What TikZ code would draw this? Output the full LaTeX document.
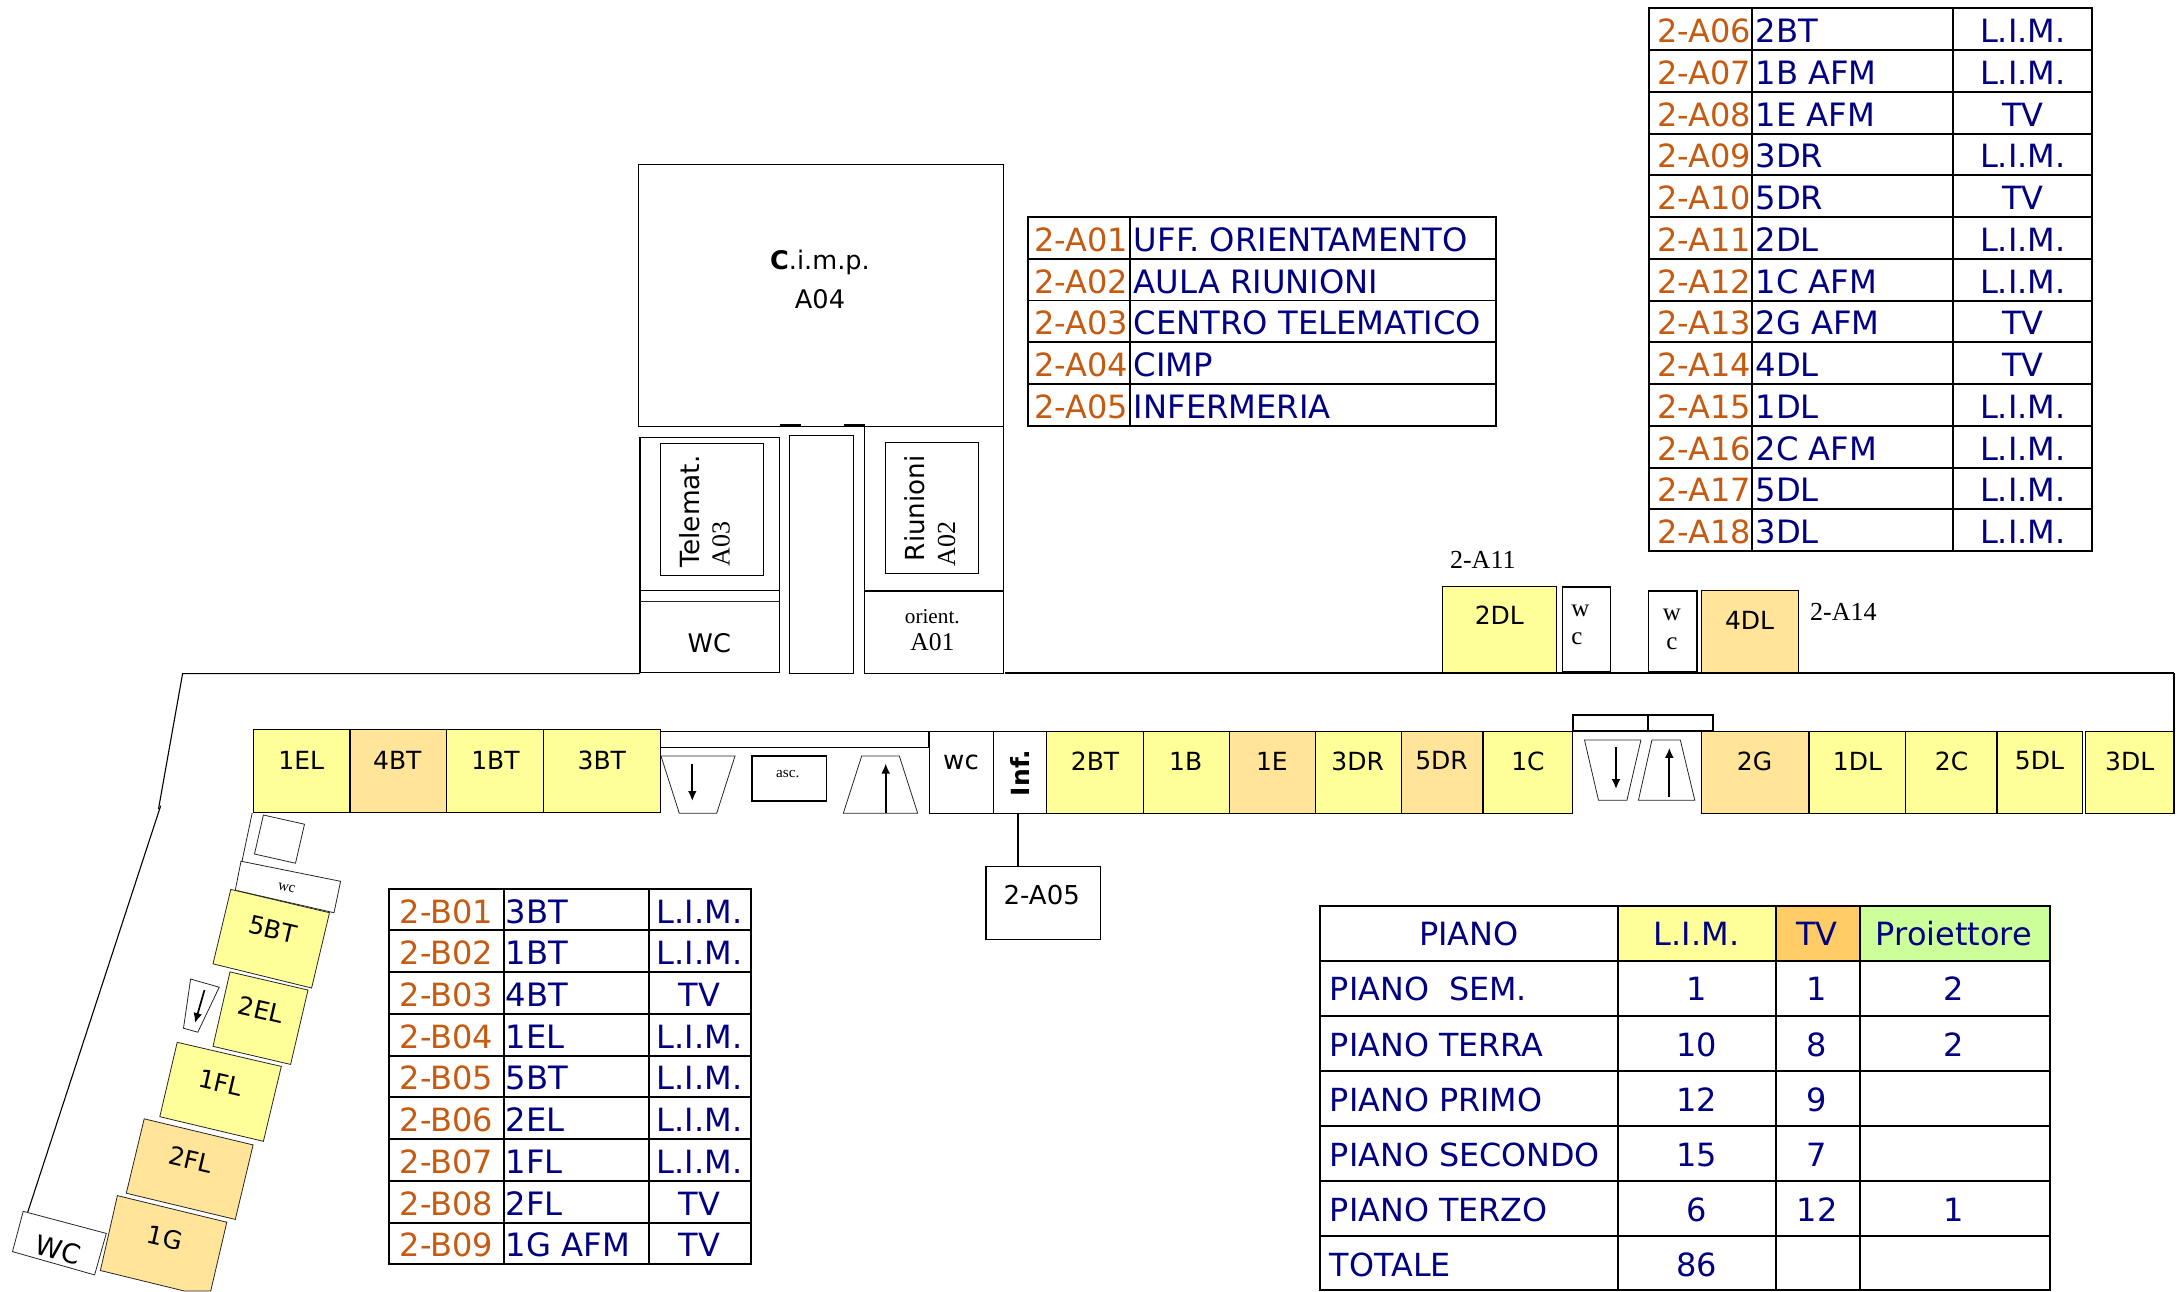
\documentclass[tikz,border=0pt]{standalone}
\usepackage{fontspec}
\setmainfont{DejaVu Sans}
\newfontfamily\serifface{Liberation Serif}
\usetikzlibrary{arrows.meta,calc}
\definecolor{roomY}{HTML}{FFFF99}
\definecolor{roomO}{HTML}{FFE499}
\definecolor{headO}{HTML}{FFCC66}
\definecolor{headG}{HTML}{CCFF99}
\definecolor{codeC}{HTML}{C55A11}
\definecolor{textN}{HTML}{000080}
\newcommand\fs[1]{\fontsize{#1}{#1}\selectfont}
\tikzset{
  wall/.style={draw=black,line width=.55pt},
  thinwall/.style={draw=black!85,line width=.4pt},
  boldwall/.style={draw=black,line width=1pt},
  yroom/.style={wall,fill=roomY},
  oroom/.style={wall,fill=roomO},
  rule/.style={draw=black,line width=.95pt},
  lbl/.style={inner sep=0pt,font=\fs{12.5}},
  slbl/.style={inner sep=0pt,font=\serifface\fs{12.5}},
  tcode/.style={inner sep=0pt,anchor=base west,text=codeC,font=\fs{16}},
  ttext/.style={inner sep=0pt,anchor=base west,text=textN,font=\fs{16.1}},
  tmid/.style={inner sep=0pt,anchor=base,text=textN,font=\fs{16}},
  ptext/.style={inner sep=0pt,anchor=base west,text=textN,font=\fs{15.9}},
  flow/.style={draw=black,line width=.85pt,-{Latex[length=5pt,width=4.4pt]}},
}
\begin{document}
\begin{tikzpicture}[x=.5pt,y=-.5pt]
\useasboundingbox (0,0) rectangle (2182,1291);
% corridor
\draw[wall] (26.8,1215) -- (160.7,805.7);
\draw[wall] (158.5,809) -- (182.6,673.6) -- (640,673.6);
\draw[wall] (1005,673) -- (2174,673);
\draw[boldwall] (2174,673) -- (2174,732);
% top block
\draw[wall,line width=.7pt] (638.7,164.5) rectangle (1003.3,426.5);
\node[lbl,font=\fs{12.8}] (cimp) at (820,262.5) {\textbf{C}.i.m.p.};
\node[lbl,font=\fs{12.8}] (a04) at (820,299.5) {A04};
\draw[line width=1.5pt] (780,425.5) -- (801,425.5) (844,425.5) -- (865,425.5);
\draw[wall] (640,437.5) rectangle (779.3,672.5);
\draw[wall] (640,590.4) -- (779.3,590.4);
\draw[thinwall] (640,601) -- (779.3,601);
\draw[wall] (660.7,443.7) rectangle (763.3,575.3);
\node[lbl,font=\fs{13.2},rotate=90,anchor=west] (telemat) at (689.3,567.8) {Telemat.};
\node[slbl,font=\serifface\fs{13},rotate=90,anchor=west] (a03) at (721,566.5) {A03};
\node[lbl,font=\fs{12.8}] (wcA) at (709.3,642.7) {WC};
\draw[wall] (789.3,435.5) rectangle (853.3,673.4);
\draw[wall] (864.3,426.5) rectangle (1003.3,673.4);
\draw[wall,line width=1pt] (864.3,590.9) -- (1003.3,590.9);
\draw[wall] (885.7,442.7) rectangle (978.3,573.2);
\node[lbl,font=\fs{13.1},rotate=90,anchor=west] (riunioni) at (915,561.5) {Riunioni};
\node[slbl,font=\serifface\fs{13},rotate=90,anchor=west] (a02) at (946.7,566.5) {A02};
\node[slbl,font=\serifface\fs{10.6}] (orient) at (932.3,616.8) {orient.};
\node[slbl,font=\serifface\fs{12.8}] (a01) at (932.3,642) {A01};
% north rooms
\draw[yroom] (1442.4,586.3) rectangle (1556.6,672.5);
\node[lbl] (r2dl) at (1499.3,615.5) {2DL};
\draw[boldwall,line width=.8pt] (1562.6,586.7) rectangle (1610.5,672);
\node[slbl] (wa) at (1580.5,610.7) {w};
\node[slbl] (ca) at (1577,638.7) {c};
\draw[boldwall,line width=.8pt] (1648.4,590.7) rectangle (1696.8,672);
\node[slbl] (wb) at (1671.8,614.7) {w};
\node[slbl] (cb) at (1671.8,643.3) {c};
\draw[oroom] (1701.7,590.3) rectangle (1798.5,672.5);
\node[lbl] (r4dl) at (1749.6,620) {4DL};
\node[slbl,font=\serifface\fs{13}] (t11) at (1482.8,559.5) {2-A11};
\node[slbl,font=\serifface\fs{13}] (t14) at (1843.4,611.5) {2-A14};
% south row, west part
\draw[yroom] (253.6,729.2) rectangle (350,812.1);
\draw[oroom] (350,729.2) rectangle (446.4,812.1);
\draw[yroom] (446.4,729.2) rectangle (543.3,812.1);
\draw[yroom] (543.3,729.2) rectangle (660.3,812.1);
\node[lbl] (r1el) at (301.3,760) {1EL};
\node[lbl] (r4bt) at (397.3,760) {4BT};
\node[lbl] (r1bt) at (495.5,760) {1BT};
\node[lbl] (r3bt) at (601.8,760) {3BT};
\draw[wall] (660.7,731.3) rectangle (928.7,747.3);
\draw[thinwall] (661,756) -- (735,756) -- (716.7,813.3) -- (679.3,813.3) -- cycle;
\draw[flow] (692.3,764) -- (692.3,801);
\draw[boldwall,line width=.8pt] (751.7,756) rectangle (826.3,800.7);
\node[inner sep=0pt,font=\serifface\fs{7.6}] (asc) at (787.7,774) {asc.};
\draw[thinwall] (861.7,756) -- (899.3,756) -- (917.7,813.3) -- (843.3,813.3) -- cycle;
\draw[flow] (885.7,813.3) -- (885.7,763.5);
% south row, centre
\node[wall,minimum width=31.9pt,minimum height=40.8pt,inner sep=0pt] (wcroom) at (961.4,772.5) {};
\node[wall,minimum width=26.8pt,minimum height=40.8pt,inner sep=0pt] (inf) at (1020.1,772.5) {};
\node[lbl,font=\fs{13}] (wct) at (961,762.5) {wc};
\node[lbl,rotate=90] (inft) at (1019.6,773) {\textbf{Inf.}};
\draw[yroom] (1046.9,731.7) rectangle (1143.3,813.3);
\draw[yroom] (1143.3,731.7) rectangle (1229.5,813.3);
\draw[oroom] (1229.5,731.7) rectangle (1315.6,813.3);
\draw[yroom] (1315.6,731.7) rectangle (1401.3,813.3);
\draw[oroom] (1401.3,731.7) rectangle (1483,813.3);
\draw[yroom] (1483,731.7) rectangle (1572.8,813.3);
\node[lbl] (r2bt) at (1095,761) {2BT};
\node[lbl] (r1b) at (1185.7,761) {1B};
\node[lbl] (r1e) at (1271.9,761) {1E};
\node[lbl] (r3dr) at (1357.6,761) {3DR};
\node[lbl] (r5dr) at (1441.5,761) {5DR};
\node[lbl] (r1c) at (1528,761) {1C};
\node[wall,line width=.7pt,minimum width=57.4pt,minimum height=36.5pt,inner sep=0pt,anchor=north west] (a05) at (985.2,865.7) {};
\node[inner sep=0pt,font=\fs{13}] (a05t) at (1041.7,895.5) {2-A05};
\draw[line width=1pt] ([xshift=-.85pt]inf.south) -- ([xshift=-.85pt]inf.south |- a05.north);
% stairs east
\draw[boldwall] (1573,714.7) rectangle (1647.9,730.7);
\draw[boldwall] (1647.9,714.7) rectangle (1712.7,730.7);
\draw[thinwall] (1584.5,740) -- (1640.9,740) -- (1626.9,800.3) -- (1598.5,800.3) -- cycle;
\draw[flow] (1616,747.3) -- (1616,789);
\draw[thinwall] (1651.9,740) -- (1680.3,740) -- (1694.8,800.3) -- (1638.4,800.3) -- cycle;
\draw[flow] (1669.3,796.7) -- (1669.3,747.8);
% south row, east
\draw[oroom] (1701.7,731.3) rectangle (1809,813.3);
\draw[yroom] (1809,731.3) rectangle (1905.7,813.3);
\draw[yroom] (1905.7,731.3) rectangle (1997,813.3);
\draw[yroom] (1997,731.3) rectangle (2082.3,813.3);
\draw[yroom] (2085.8,731.3) rectangle (2174,813.3);
\node[lbl] (r2g) at (1754.6,761) {2G};
\node[lbl] (r1dl) at (1857.4,761) {1DL};
\node[lbl] (r2c) at (1951.6,761) {2C};
\node[lbl] (r5dl) at (2039.4,761) {5DL};
\node[lbl] (r3dl) at (2129.7,761) {3DL};
% west wing
\draw[thinwall] (252.2,813) -- (242,861.2);
\draw[thinwall] (263.4,815) -- (304.5,824.2) -- (295.5,863.2) -- (254.5,854) -- cycle;
\draw[thinwall] (241,861.2) -- (340.6,881.3) -- (334,912.7) -- (235.3,890.2) -- cycle;
\node[inner sep=0pt,font=\serifface\fs{7.5},rotate=-13] (wcw) at (286.6,887.8) {wc};
\draw[thinwall,fill=roomY] (230.8,889.4) -- (329.5,912.7) -- (311.6,988) -- (213,963.8) -- cycle;
\node[lbl,rotate=-13] (r5bt) at (273,929.5) {5BT};
\draw[thinwall,fill=roomY] (230,971.9) -- (308,990) -- (290.6,1064.4) -- (213,1046.3) -- cycle;
\node[lbl,rotate=-13] (r2el) at (261,1009.5) {2EL};
\draw[thinwall] (190.6,979) -- (219.2,987.2) -- (197.8,1032.2) -- (183.5,1028.2) -- cycle;
\draw[flow] (204.5,990) -- (195,1023);
\draw[thinwall,fill=roomY] (177.2,1042.3) -- (281.3,1066.4) -- (263.4,1141.3) -- (159.8,1116.7) -- cycle;
\node[lbl,rotate=-13] (r1fl) at (221,1083) {1FL};
\draw[thinwall,fill=roomO] (144.2,1118.8) -- (253.1,1144.9) -- (235.3,1219.4) -- (126.3,1193.2) -- cycle;
\node[lbl,rotate=-13] (r2fl) at (191,1159.5) {2FL};
\draw[thinwall,fill=roomO] (117.4,1195.6) -- (226.8,1222.2) -- (210.7,1291) -- (184.4,1291) -- (100.4,1270.5) -- cycle;
\node[lbl,rotate=-13] (r1g) at (165,1238) {1G};
\draw[thinwall,fill=white] (23.2,1211.3) -- (106.3,1233.4) -- (94.6,1274.9) -- (12.5,1251.6) -- cycle;
\node[lbl,font=\fs{13.5},rotate=-15] (wcs) at (58,1250) {WC};
% table A01-A05
\draw[rule] (1028,217) rectangle (1496,426);
\foreach \y in {258.8,300.5,342,384} \draw[rule] (1028,\y) -- (1496,\y);
\draw[rule] (1130,217) -- (1130,426);
\foreach \b/\a/\c [count=\i] in {251/2-A01/UFF. ORIENTAMENTO,293/2-A02/AULA RIUNIONI,334.5/2-A03/CENTRO TELEMATICO,376.5/2-A04/CIMP,418/2-A05/INFERMERIA}{
  \node[tcode] (oa\i) at (1034,\b) {\a};
  \node[ttext] (ob\i) at (1133.5,\b) {\c};
}
% table A06-A18
\draw[rule] (1649.3,8.3) rectangle (2092,551);
\draw[rule] (1752,8.3) -- (1752,551) (1953.3,8.3) -- (1953.3,551);
\foreach \n in {1,...,12} \draw[rule] (1649.3,8.3+41.75*\n) -- (2092,8.3+41.75*\n);
\foreach \a/\c/\d [count=\i] in {2-A06/2BT/L.I.M.,2-A07/1B AFM/L.I.M.,2-A08/1E AFM/TV,2-A09/3DR/L.I.M.,2-A10/5DR/TV,2-A11/2DL/L.I.M.,2-A12/1C AFM/L.I.M.,2-A13/2G AFM/TV,2-A14/4DL/TV,2-A15/1DL/L.I.M.,2-A16/2C AFM/L.I.M.,2-A17/5DL/L.I.M.,2-A18/3DL/L.I.M.}{
  \node[tcode] (ta\i) at (1656.7,42.5+41.75*\i-41.75) {\a};
  \node[ttext] (tb\i) at (1755.2,42.5+41.75*\i-41.75) {\c};
  \node[tmid] (tc\i) at (2022.7,42.5+41.75*\i-41.75) {\d};
}
% table B
\draw[rule] (389,889) rectangle (751,1264);
\draw[rule] (503.7,889) -- (503.7,1264) (648.7,889) -- (648.7,1264);
\foreach \y in {930,971.7,1014,1055.7,1096.7,1138.7,1181,1222.7} \draw[rule] (389,\y) -- (751,\y);
\foreach \y/\a/\c/\d [count=\i] in {923/2-B01/3BT/L.I.M.,964.5/2-B02/1BT/L.I.M.,1006.5/2-B03/4BT/TV,1048/2-B04/1EL/L.I.M.,1089.5/2-B05/5BT/L.I.M.,1131/2-B06/2EL/L.I.M.,1173/2-B07/1FL/L.I.M.,1215/2-B08/2FL/TV,1256.5/2-B09/1G AFM/TV}{
  \node[tcode] (ba\i) at (399.5,\y) {\a};
  \node[ttext] (bb\i) at (505.5,\y) {\c};
  \node[tmid] (bc\i) at (699.5,\y) {\d};
}
% table piano
\fill[roomY] (1617.9,906) rectangle (1776,961);
\fill[headO] (1776,906) rectangle (1860,961);
\fill[headG] (1860,906) rectangle (2049.8,961);
\draw[rule] (1320.4,906) rectangle (2049.8,1290);
\foreach \y in {961,1016,1071,1125.7,1181,1236} \draw[rule] (1320.4,\y) -- (2049.8,\y);
\draw[rule] (1617.9,906) -- (1617.9,1290) (1776,906) -- (1776,1290) (1860,906) -- (1860,1290);
\node[tmid] (pA) at (1469,945) {PIANO};
\node[tmid] (pB) at (1696.5,945) {L.I.M.};
\node[tmid] (pC) at (1817,945) {TV};
\node[tmid] (pD) at (1954,945) {Proiettore};
\foreach \y/\a/\l/\t/\p [count=\i] in {1000.5/PIANO\ \ SEM./1/1/2,1056/PIANO TERRA/10/8/2,1111/PIANO PRIMO/12/9/,1166/PIANO SECONDO/15/7/,1221/PIANO TERZO/6/12/1,1276/TOTALE/86//}{
  \node[ptext] (pa\i) at (1329.5,\y) {\a};
  \node[tmid] (pb\i) at (1696.5,\y) {\l};
  \node[tmid] (pc\i) at (1817,\y) {\t};
  \node[tmid] (pd\i) at (1954,\y) {\p};
}
\end{tikzpicture}
\end{document}
